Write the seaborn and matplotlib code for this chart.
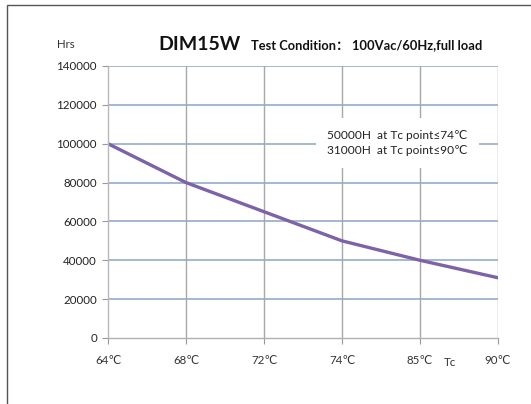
import matplotlib
matplotlib.use("Agg")
import matplotlib.pyplot as plt
import seaborn as sns
import pandas as pd
from matplotlib.patches import Rectangle

categories = ["64℃", "68℃", "72℃", "74℃", "85℃", "90℃"]
hours = [100000, 80000, 65000, 50000, 40000, 31000]
y_ticks = [0, 20000, 40000, 60000, 80000, 100000, 120000, 140000]
notes = ["50000H  at Tc point≤74℃", "31000H  at Tc point≤90℃"]

sns.set_theme(style="white")
FAM = ["Lato", "DejaVu Sans"]
plt.rcParams["font.family"] = FAM

fig = plt.figure(figsize=(5.31, 4.04), dpi=100)
# outer frame
fig.patches.append(Rectangle((7 / 531, -0.1), 1.2, 1 - 5 / 404 + 0.1, transform=fig.transFigure,
                             fill=False, edgecolor="#555555", linewidth=1.0))

ax = fig.add_axes([108 / 531, 1 - 338 / 404, 390 / 531, 272 / 404])
df = pd.DataFrame({"idx": range(len(categories)), "hours": hours})
sns.lineplot(data=df, x="idx", y="hours", ax=ax, color="#7d62a8", linewidth=2.4)

ax.set_xlim(0, len(categories) - 1)
ax.set_ylim(0, 140000)
ax.set_yticks(y_ticks)
ax.set_yticklabels([str(v) for v in y_ticks], fontsize=8.3, color="#222222")
ax.set_xticks(range(len(categories)))
ax.set_xticklabels(categories, fontsize=8.3, color="#333333")
ax.set_xlabel("")
ax.set_ylabel("")

for v in y_ticks[1:]:
    ax.axhline(v, color="#94accb", linewidth=1.2, zorder=1)
for i in range(1, len(categories)):
    ax.axvline(i, color="#a8a8a8", linewidth=1.0, zorder=1)

for s in ["top", "right"]:
    ax.spines[s].set_visible(False)
ax.spines["left"].set_color("#b8b8b8")
ax.spines["bottom"].set_color("#b0b0b0")
ax.spines["left"].set_linewidth(1.0)
ax.spines["bottom"].set_linewidth(1.0)
ax.tick_params(axis="y", which="both", length=4, width=0.8, color="#999999", left=True, pad=4)
ax.tick_params(axis="x", which="both", length=4, width=0.8, color="#999999", bottom=True, pad=8)

# annotation box
ax.text(0.742, 0.717, notes[0] + "\n" + notes[1], transform=ax.transAxes, ha="center", va="center",
        fontsize=8.6, color="#222222", linespacing=1.55, family=FAM,
        bbox=dict(facecolor="white", edgecolor="none", pad=8), zorder=5)

fig.text(57 / 531, 1 - 45 / 404, "Hrs", fontsize=8.3, color="#333333", ha="left", va="center")
fig.text(158 / 531, 1 - 44 / 404, "DIM15W", fontsize=14, fontweight="bold", color="#111111",
         ha="left", va="center")
fig.text(251 / 531, 1 - 45 / 404, "Test Condition： 100Vac/60Hz,full load", fontsize=9.3,
         fontweight="bold", color="#111111", ha="left", va="center",
         family=["Lato", "Noto Sans CJK SC", "DejaVu Sans"])
fig.text(444 / 531, 1 - 362 / 404, "Tc", fontsize=8.3, color="#333333", ha="left", va="center")

fig.savefig("out.png", dpi=100)
